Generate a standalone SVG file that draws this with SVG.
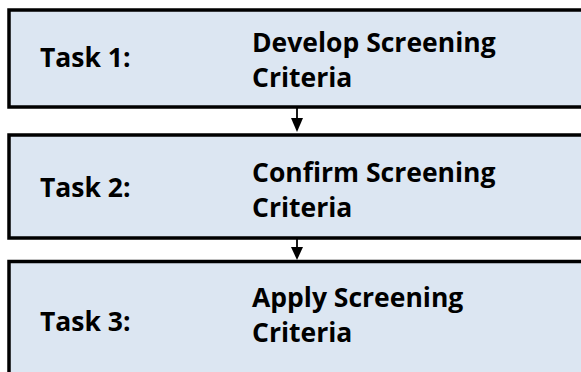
<svg xmlns="http://www.w3.org/2000/svg" width="581" height="372" viewBox="0 0 581 372">
<style>
.box{fill:#DCE6F2;stroke:#000;stroke-width:3.5}
.t{font-family:"Open Sans",Lato,sans-serif;font-weight:700;font-size:26.5px;fill:#000}
.c{stroke:#000;stroke-width:1.8;fill:none}
.h{fill:#000}
</style>
<rect width="581" height="372" fill="#fff"/>
<g id="task1">
<rect class="box" x="9" y="10" width="600" height="97"/>
<text class="t" x="40" y="67">Task 1:</text>
<text class="t" x="252" y="52">Develop Screening</text>
<text class="t" x="252" y="87">Criteria</text>
</g>
<g id="task2">
<rect class="box" x="9" y="135" width="600" height="103"/>
<text class="t" x="40" y="197">Task 2:</text>
<text class="t" x="252" y="182">Confirm Screening</text>
<text class="t" x="252" y="217">Criteria</text>
</g>
<g id="task3">
<rect class="box" x="9" y="261.5" width="600" height="130"/>
<text class="t" x="40" y="331">Task 3:</text>
<text class="t" x="252" y="307">Apply Screening</text>
<text class="t" x="252" y="342">Criteria</text>
</g>
<g id="connectors">
<line class="c" x1="297" y1="108" x2="297" y2="120"/>
<polygon class="h" points="291,118 303,118 297,132"/>
<line class="c" x1="297" y1="239" x2="297" y2="249"/>
<polygon class="h" points="291,247 303,247 297,260"/>
</g>
</svg>
